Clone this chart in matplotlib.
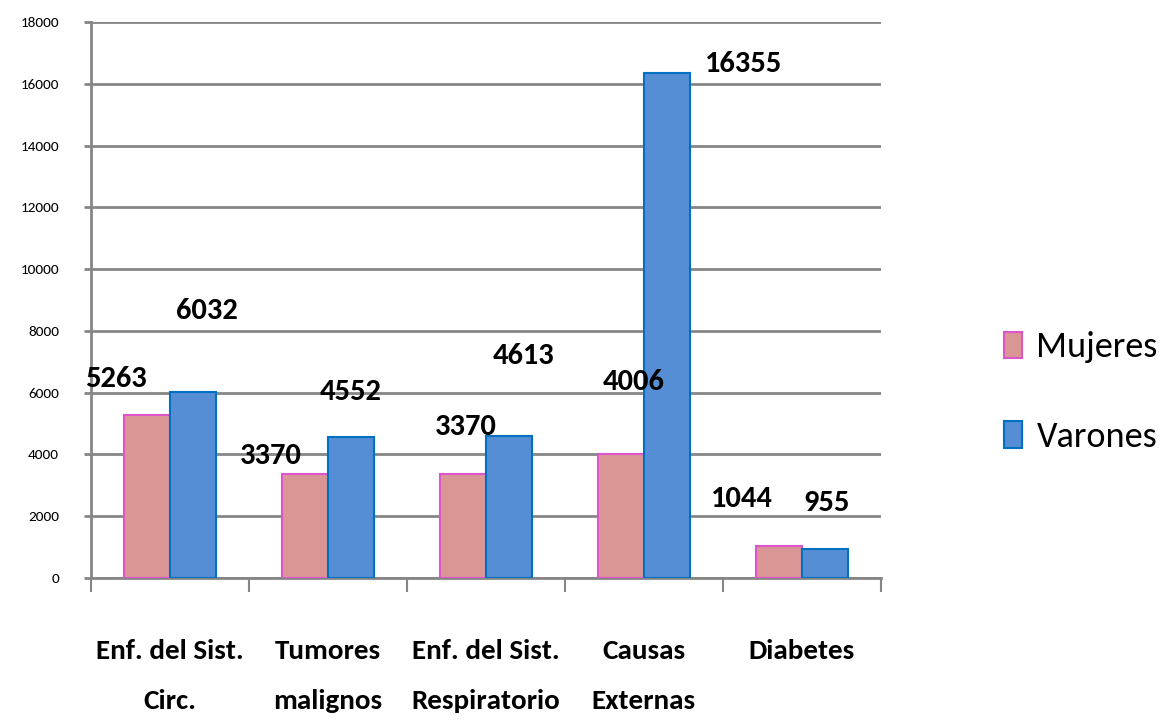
import numpy as np
import matplotlib
matplotlib.use("Agg")
import matplotlib.pyplot as plt

categories = ["Enf. del Sist.\nCirc.", "Tumores\nmalignos", "Enf. del Sist.\nRespiratorio",
              "Causas\nExternas", "Diabetes"]
mujeres = [5263, 3370, 3370, 4006, 1044]
varones = [6032, 4552, 4613, 16355, 955]
y_ticks = [0, 2000, 4000, 6000, 8000, 10000, 12000, 14000, 16000, 18000]

# label offsets (in points) from the top of each bar, the original chart places them loosely
off_m = [(-22, 26), (-25, 13), (2, 34), (9, 52), (-27, 34)]
off_v = [(10, 58), (0, 33), (11, 57), (55, 6), (1, 33)]

FONT = ["Carlito", "DejaVu Sans"]
grid_c = "#868686"

fig = plt.figure(figsize=(11.66, 7.21), dpi=100)
ax = fig.add_axes([0.078, 0.1983, 0.6775, 0.7712])

x = np.arange(len(categories))
w = 0.29
bm = ax.bar(x - w / 2, mujeres, w, color="#D99694", edgecolor="#DD55CC", linewidth=1.5, zorder=3, label="Mujeres")
bv = ax.bar(x + w / 2, varones, w, color="#558ED5", edgecolor="#0070C0", linewidth=1.5, zorder=3, label="Varones")

for bars, vals, offs in ((bm, mujeres, off_m), (bv, varones, off_v)):
    for b, v, o in zip(bars, vals, offs):
        ax.annotate(str(v), (b.get_x() + b.get_width() / 2, v), xytext=o, textcoords="offset points",
                    ha="center", va="center", fontsize=22, fontweight="bold", family=FONT, zorder=5)

ax.set_xlim(-0.5, len(categories) - 0.5)
ax.set_ylim(0, 18000)
ax.set_yticks(y_ticks)
ax.set_yticklabels([str(t) for t in y_ticks], fontsize=11, family=FONT)
ax.yaxis.grid(True, color=grid_c, linewidth=2, zorder=0)
ax.tick_params(axis="y", length=5, width=2, color=grid_c, pad=18)

ax.set_xticks(np.arange(len(categories) + 1) - 0.5)
ax.set_xticklabels([])
ax.set_xticks(x, minor=True)
ax.set_xticklabels(categories, minor=True, fontsize=21, fontweight="bold", family=FONT, linespacing=2.3)
ax.tick_params(axis="x", which="major", length=10, width=1.5, color=grid_c)
ax.tick_params(axis="x", which="minor", length=0, pad=44)

for s in ["top", "right"]:
    ax.spines[s].set_visible(False)
ax.spines["left"].set_color(grid_c)
ax.spines["left"].set_linewidth(2)
ax.spines["bottom"].set_color(grid_c)
ax.spines["bottom"].set_linewidth(2)

leg = fig.legend(handles=[bm, bv], loc="center left", bbox_to_anchor=(0.861, 0.456), frameon=False,
                 prop={"family": FONT, "size": 26}, handlelength=0.5, handleheight=0.75,
                 labelspacing=1.6, handletextpad=0.4, borderpad=0, borderaxespad=0)

fig.savefig("out.png", dpi=100)
